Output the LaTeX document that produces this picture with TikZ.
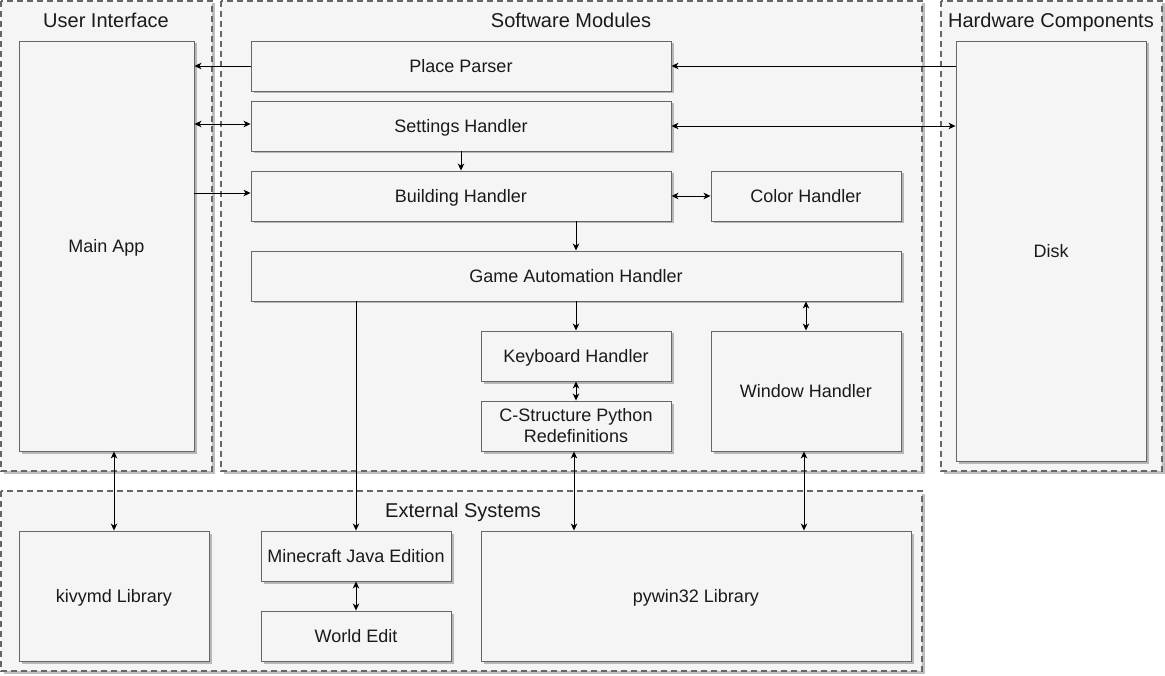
\documentclass[tikz,border=0pt]{standalone}
\usepackage{fontspec}
\setmainfont{Liberation Sans}
\usetikzlibrary{arrows.meta,shadows}
\definecolor{boxfill}{HTML}{F5F5F5}
\definecolor{boxline}{HTML}{666666}
\definecolor{txt}{HTML}{1A1A1A}
\begin{document}
\begin{tikzpicture}[x=1pt,y=-1pt,
  shd/.style={drop shadow={shadow xshift=2.5pt,shadow yshift=-2.5pt,fill=black,opacity=0.25}},
  grp/.style={draw=boxline,fill=boxfill,dashed,dash pattern=on 6pt off 4pt,line width=1.3pt,shd},
  box/.style={draw=boxline,fill=boxfill,line width=0.9pt,shd,rectangle,inner sep=2pt,
    text=txt,font=\fontsize{18}{21}\selectfont,align=center},
  one/.style={text height=13.5pt,text depth=0.6pt},
  gtitle/.style={text=txt,font=\fontsize{20}{23}\selectfont,inner sep=0pt,text height=15pt,text depth=0.7pt},
  conn/.style={draw=black,line width=0.9pt,-{Stealth[length=7pt,width=6.5pt,inset=2pt]}},
  bi/.style={draw=black,line width=0.9pt,{Stealth[length=7pt,width=6.5pt,inset=2pt]}-{Stealth[length=7pt,width=6.5pt,inset=2pt]}}
]
\useasboundingbox (0,0) rectangle (1165,676);
% groups
\path[grp] (1,1) rectangle (212,471);
\path[grp] (221,1) rectangle (922,471);
\path[grp] (941,1) rectangle (1162,471);
\path[grp] (1,491) rectangle (922,671);
\node[gtitle] (tui) at (106,20) {User Interface};
\node[gtitle] (tsm) at (571,20) {Software Modules};
\node[gtitle] (thc) at (1051,20) {Hardware Components};
\node[gtitle] (tes) at (463,510) {External Systems};
% nodes
\node[box,one,minimum width=175,minimum height=410] (main) at (106.5,246) {Main App};
\node[box,one,minimum width=420,minimum height=50] (pp) at (461,66) {Place Parser};
\node[box,one,minimum width=420,minimum height=50] (sh) at (461,126) {Settings Handler};
\node[box,one,minimum width=420,minimum height=50] (bh) at (461,196) {Building Handler};
\node[box,one,minimum width=190,minimum height=50] (ch) at (806,196) {Color Handler};
\node[box,one,minimum width=650,minimum height=50] (ga) at (576,276) {Game Automation Handler};
\node[box,one,minimum width=190,minimum height=50] (kh) at (576,356) {Keyboard Handler};
\node[box,minimum width=190,minimum height=50] (cs) at (576,426) {C-Structure Python\\Redefinitions};
\node[box,one,minimum width=190,minimum height=120] (wh) at (806,391) {Window Handler};
\node[box,one,minimum width=190,minimum height=420] (disk) at (1051,251) {Disk};
\node[box,one,minimum width=190,minimum height=130] (kv) at (114,596) {kivymd Library};
\node[box,one,minimum width=190,minimum height=50] (mc) at (356,556) {Minecraft Java Edition};
\node[box,one,minimum width=190,minimum height=50] (we) at (356,636) {World Edit};
\node[box,one,minimum width=430,minimum height=130] (py) at (696,596) {pywin32 Library};
% connectors
\draw[conn] (pp.west) -- (main.east |- pp.west);
\draw[conn] (disk.west |- pp.east) -- (pp.east);
\draw[bi] (main.east |- 0,124) -- (sh.west |- 0,124);
\draw[bi] (sh.east) -- (disk.west |- sh.east);
\draw[conn] (sh.south) -- (bh.north);
\draw[conn] (main.east |- 0,193) -- (bh.west |- 0,193);
\draw[bi] (bh.east) -- (ch.west);
\draw[conn] (ga.north |- bh.south) -- (ga.north);
\draw[conn] (kh.north |- ga.south) -- (kh.north);
\draw[bi] (wh.north |- ga.south) -- (wh.north);
\draw[bi] (kh.south) -- (cs.north);
\draw[bi] ([xshift=-2pt]cs.south) -- ([xshift=-2pt]cs.south |- py.north);
\draw[bi] ([xshift=-2pt]wh.south) -- ([xshift=-2pt]wh.south |- py.north);
\draw[conn] (mc.north |- ga.south) -- (mc.north);
\draw[bi] (mc.south) -- (we.north);
\draw[bi] (kv.north |- main.south) -- (kv.north);
\end{tikzpicture}
\end{document}
